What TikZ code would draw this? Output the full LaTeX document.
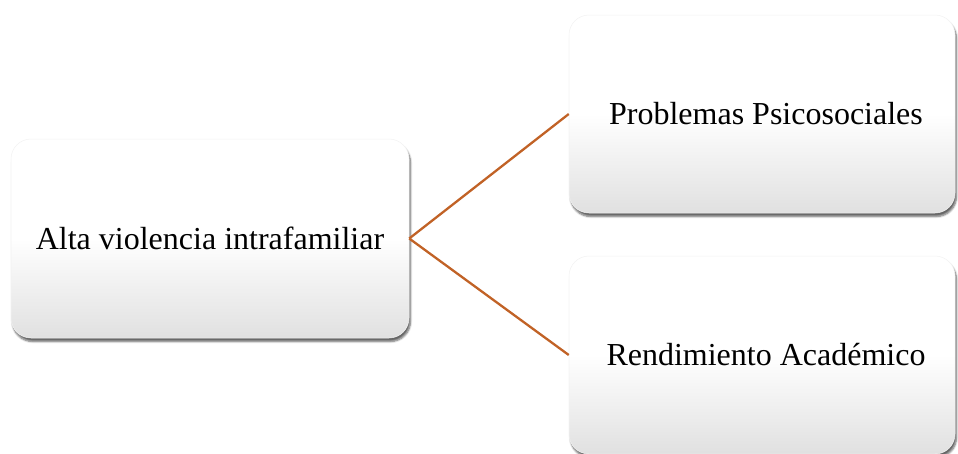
\documentclass[tikz,border=0pt]{standalone}
\usepackage{fontspec}
\setmainfont{Liberation Serif}
\usetikzlibrary{shadings,shadows.blur}
\definecolor{linkc}{RGB}{193,98,38}
\tikzset{
  box/.style={rectangle, rounded corners=20pt, inner sep=0pt,
    top color=white, bottom color=black!12, middle color=white,
    draw=black!5, line width=0.5pt,
    blur shadow={shadow xshift=1.5pt, shadow yshift=-3.5pt, shadow blur steps=6, shadow opacity=60},
    font=\fontsize{32}{38}\selectfont, text=black},
  link/.style={draw=linkc, line width=2.3pt}
}
\begin{document}
\begin{tikzpicture}[x=1pt,y=-1pt]
\useasboundingbox (0,0) rectangle (958,453);
\node[box, minimum width=398pt, minimum height=199pt] (a) at (210,238.5) {Alta violencia intrafamiliar};
\node[box, minimum width=386pt, minimum height=198pt] (b) at (762,114) {\hspace*{8pt}Problemas Psicosociales};
\node[box, minimum width=386pt, minimum height=198pt] (c) at (762,355) {\hspace*{8pt}Rendimiento Académico};
\draw[link] (a.east) -- (b.west);
\draw[link] (a.east) -- (c.west);
\end{tikzpicture}
\end{document}
